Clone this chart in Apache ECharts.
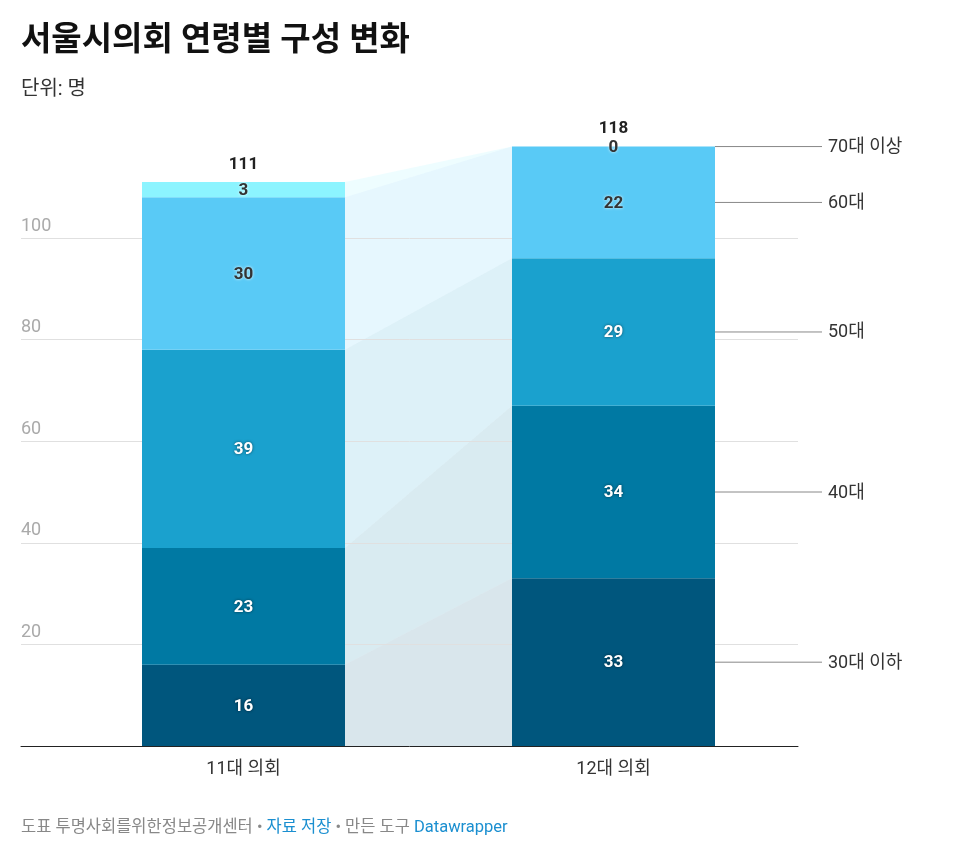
<!DOCTYPE html>
<html>
<head>
<meta charset="utf-8">
<script src="https://cdn.jsdelivr.net/npm/echarts@6/dist/echarts.min.js"></script>
<style>
  html, body { margin: 0; padding: 0; background: #fff; }
  #main { width: 955px; height: 866px; }
</style>
</head>
<body>
<div id="main"></div>
<script>
// data
const categories = ['11대 의회', '12대 의회'];
const groupNames = ['30대 이하', '40대', '50대', '60대', '70대 이상'];
const under30 = [16, 33];
const age40s = [23, 34];
const age50s = [39, 29];
const age60s = [30, 22];
const over70 = [3, 0];
const yTicks = [20, 40, 60, 80, 100];

const groups = [under30, age40s, age50s, age60s, over70];
const colors = ['#00567d', '#0079a3', '#1aa1ce', '#59caf6', '#8cf4ff'];
const darkLabel = [false, false, false, true, true];
const totals = categories.map((c, i) => groups.reduce((s, g) => s + g[i], 0));

const FONT = 'Roboto, "Noto Sans CJK KR", sans-serif';
const BAR_W = 203;

// bottom of each segment per category
function bottomOf(gi, ci) {
  let s = 0;
  for (let k = 0; k < gi; k++) s += groups[k][ci];
  return s;
}

const chart = echarts.init(document.getElementById('main'));

const barSeries = groups.map((vals, gi) => ({
  type: 'bar',
  name: groupNames[gi],
  xAxisIndex: 1,
  yAxisIndex: 1,
  stack: 'age',
  barWidth: BAR_W,
  data: vals,
  itemStyle: { color: colors[gi] },
  z: 3,
  label: {
    show: true,
    position: 'inside',
    offset: [0, 1],
    fontFamily: FONT,
    fontSize: 17,
    fontWeight: 'bold',
    color: darkLabel[gi] ? '#333' : '#fff',
    textShadowColor: darkLabel[gi] ? 'rgba(255,255,255,0.9)' : 'rgba(0,0,0,0.55)',
    textShadowBlur: 3
  }
}));

// totals above each bar
barSeries.push({
  type: 'bar',
  name: 'total',
  xAxisIndex: 1,
  yAxisIndex: 1,
  stack: 'age',
  barWidth: BAR_W,
  data: categories.map(() => 0),
  z: 3,
  label: {
    show: true,
    position: 'top',
    distance: 9,
    fontFamily: FONT,
    fontSize: 17,
    fontWeight: 'bold',
    color: '#222',
    formatter: p => totals[p.dataIndex]
  }
});

// connecting bands between bars
const connector = {
  type: 'custom',
  xAxisIndex: 1,
  yAxisIndex: 1,
  z: -1,
  silent: true,
  data: groupNames.map((n, i) => [i]),
  renderItem: function (params, api) {
    const gi = api.value(0);
    const b0 = bottomOf(gi, 0), b1 = bottomOf(gi, 1);
    const t0 = b0 + groups[gi][0], t1 = b1 + groups[gi][1];
    const pb0 = api.coord([0, b0]), pt0 = api.coord([0, t0]);
    const pb1 = api.coord([1, b1]), pt1 = api.coord([1, t1]);
    const xl = pb0[0] + BAR_W / 2, xr = pb1[0] - BAR_W / 2;
    return {
      type: 'polygon',
      shape: { points: [[xl, pb0[1]], [xl, pt0[1]], [xr, pt1[1]], [xr, pb1[1]]] },
      style: { fill: colors[gi], opacity: 0.15 }
    };
  }
};

// labels at the right of the second bar
const sideLabels = {
  type: 'custom',
  xAxisIndex: 1,
  yAxisIndex: 1,
  z: 4,
  silent: true,
  data: groupNames.map((n, i) => [i]),
  renderItem: function (params, api) {
    const gi = api.value(0);
    const ci = categories.length - 1;
    const mid = bottomOf(gi, ci) + groups[gi][ci] / 2;
    const p = api.coord([ci, mid]);
    const x0 = p[0] + BAR_W / 2;
    return {
      type: 'group',
      children: [
        { type: 'line', shape: { x1: x0, y1: p[1], x2: x0 + 107, y2: p[1] },
          style: { stroke: '#888', lineWidth: 1 } },
        { type: 'text', x: x0 + 113, y: p[1] + 1,
          style: { text: groupNames[gi], fill: '#333', font: '18px ' + FONT,
                   verticalAlign: 'middle', align: 'left' } }
      ]
    };
  }
};

const splitColors = [0, ...yTicks, 120].map(v => yTicks.includes(v) ? '#e0e0e0' : 'rgba(0,0,0,0)');

const option = {
  animation: false,
  backgroundColor: '#fff',
  grid: [
    { left: 21, right: 157, top: 136.4, bottom: 120 },
    { left: 58.5, right: 156.5, top: 136.4, bottom: 120 }
  ],
  xAxis: [
    { type: 'value', gridIndex: 0, min: 0, max: 1, position: 'bottom',
      axisLine: { show: true, onZero: false, lineStyle: { color: '#222', width: 1 } },
      axisTick: { show: false }, axisLabel: { show: false }, splitLine: { show: false } },
    { type: 'category', gridIndex: 1, data: categories,
      axisLine: { show: false }, axisTick: { show: false }, splitLine: { show: false },
      axisLabel: { color: '#333', fontSize: 18, fontFamily: FONT, margin: 15 } }
  ],
  yAxis: [
    { type: 'value', gridIndex: 0, min: 0, max: 120, interval: 20,
      axisLine: { show: false }, axisTick: { show: false },
      axisLabel: { inside: true, margin: 0, showMinLabel: false, showMaxLabel: false,
        color: '#aaa', fontSize: 18, fontFamily: FONT, verticalAlign: 'bottom',
        padding: [0, 0, 3, 0] },
      splitLine: { show: true, lineStyle: { color: splitColors, width: 1 } } },
    { type: 'value', gridIndex: 1, min: 0, max: 120, interval: 20, show: false,
      splitLine: { show: false } }
  ],
  graphic: [
    { type: 'text', left: 21, top: 25,
      style: { text: '서울시의회 연령별 구성 변화', fill: '#111',
               font: 'bold 33px ' + FONT } },
    { type: 'text', left: 21, top: 80,
      style: { text: '단위: 명', fill: '#333', font: '20px ' + FONT } },
    { type: 'text', left: 21, top: 820,
      style: {
        text: '{g|도표 투명사회를위한정보공개센터 • }{b|자료 저장}{g| • 만든 도구 }{b|Datawrapper}',
        rich: {
          g: { fill: '#888', font: '16.5px ' + FONT },
          b: { fill: '#1b8fd0', font: '16.5px ' + FONT }
        }
      } }
  ],
  series: [connector, ...barSeries, sideLabels]
};

chart.setOption(option);
</script>
</body>
</html>
